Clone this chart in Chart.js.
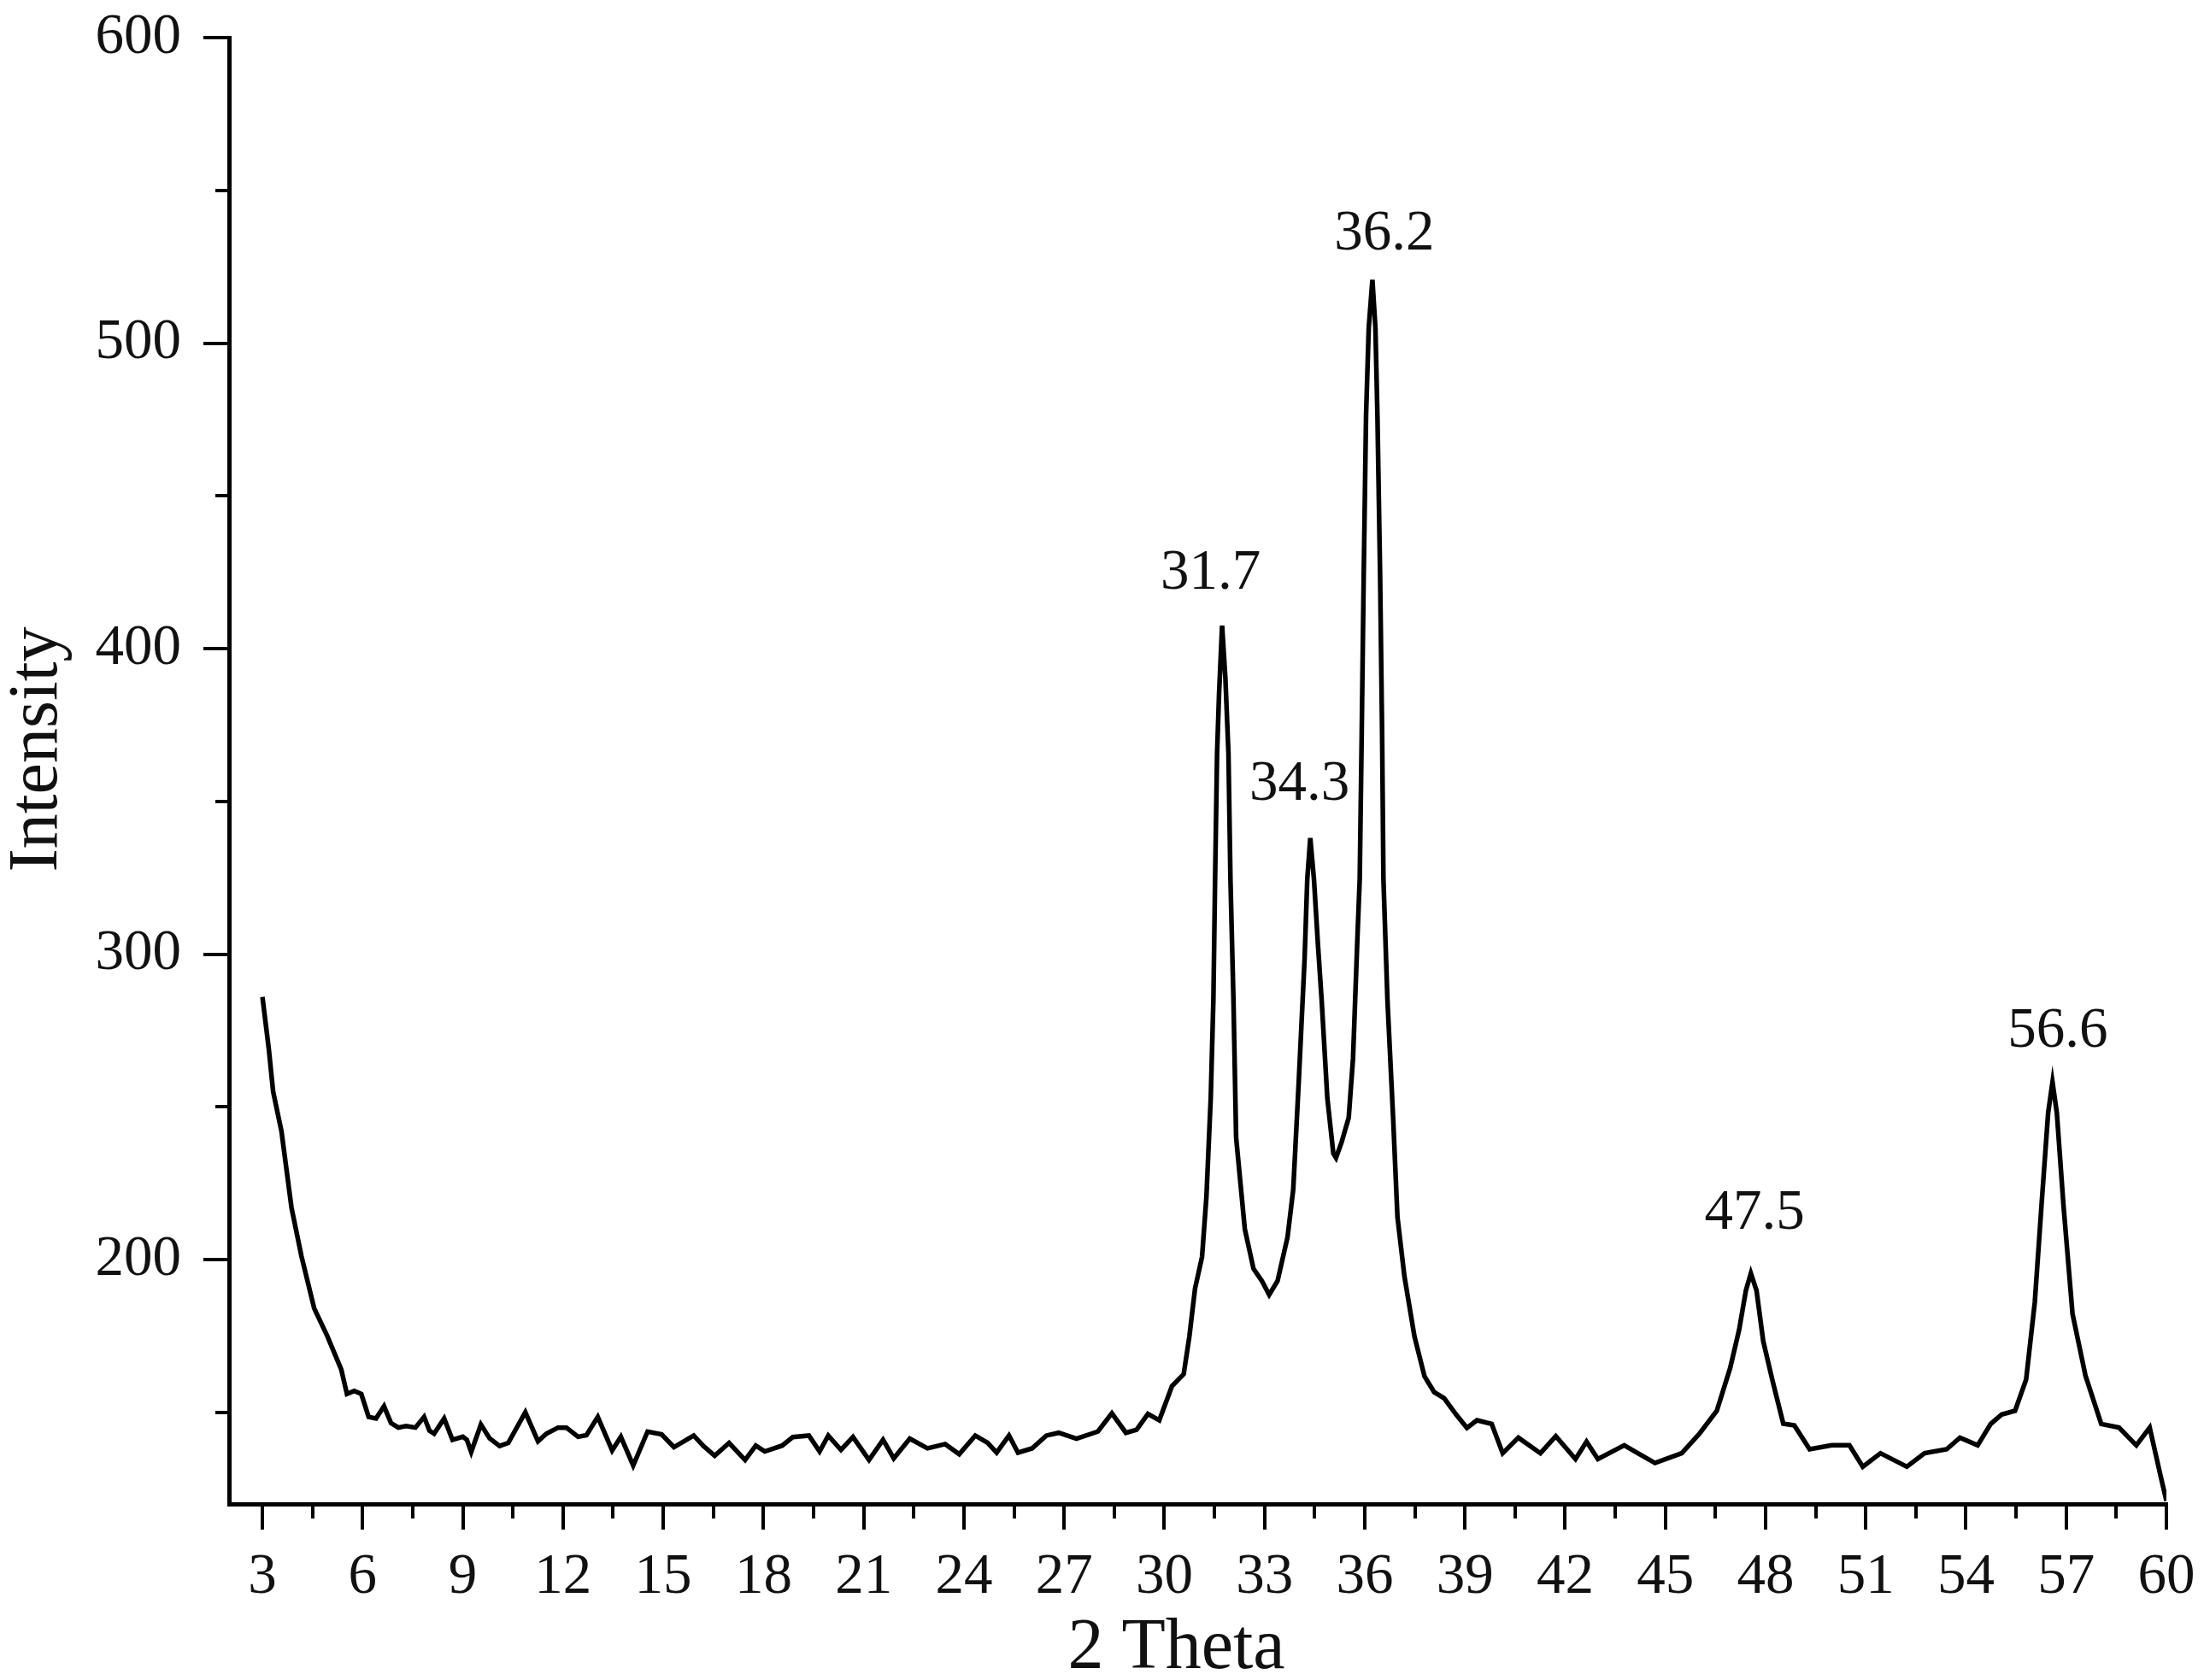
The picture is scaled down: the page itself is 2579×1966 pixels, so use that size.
<!DOCTYPE html>
<html>
<head>
<meta charset="utf-8">
<script src="https://cdn.jsdelivr.net/npm/chart.js@4/dist/chart.umd.min.js"></script>
<style>
  html, body { margin: 0; padding: 0; background: #ffffff; }
  #wrap { width: 2579px; height: 1966px; }
</style>
</head>
<body>
<div id="wrap"><canvas id="c" width="2579" height="1966"></canvas></div>
<script>
// ---- data ----
const twoTheta = [
  3.00, 3.19, 3.32, 3.57, 3.87, 4.17, 4.55, 4.94, 5.36, 5.53, 5.75, 5.96, 6.18, 6.40, 6.64, 6.85,
  7.07, 7.30, 7.58, 7.84, 8.00, 8.14, 8.44, 8.69, 9.00, 9.12, 9.25, 9.54, 9.80, 10.10, 10.36, 10.87,
  11.25, 11.50, 11.85, 12.10, 12.45, 12.70, 13.04, 13.47, 13.73, 14.10, 14.53, 14.95, 15.32, 15.91,
  16.20, 16.54, 16.97, 17.45, 17.77, 18.04, 18.56, 18.88, 19.36, 19.68, 19.94, 20.32, 20.68, 21.16,
  21.58, 21.90, 22.38, 22.91, 23.44, 23.86, 24.34, 24.71, 24.98, 25.35, 25.62, 26.04, 26.47, 26.84,
  27.37, 28.01, 28.43, 28.85, 29.17, 29.51, 29.85, 30.23, 30.58, 30.75, 30.92, 31.13, 31.26, 31.39,
  31.47, 31.52, 31.58, 31.64, 31.73, 31.83, 31.92, 31.98, 32.07, 32.15, 32.41, 32.67, 32.92, 33.14,
  33.39, 33.69, 33.86, 34.03, 34.20, 34.28, 34.37, 34.48, 34.60, 34.71, 34.88, 35.06, 35.14, 35.31,
  35.52, 35.65, 35.78, 35.85, 35.91, 35.97, 36.04, 36.12, 36.23, 36.32, 36.38, 36.46, 36.52, 36.56,
  36.68, 36.85, 36.98, 37.19, 37.49, 37.79, 38.08, 38.38, 38.72, 39.06, 39.36, 39.80, 40.13, 40.60,
  41.26, 41.72, 42.31, 42.64, 42.98, 43.77, 44.20, 44.69, 45.49, 46.02, 46.54, 46.94, 47.21, 47.41,
  47.56, 47.73, 47.93, 48.20, 48.53, 48.86, 49.32, 49.98, 50.51, 50.91, 51.44, 52.23, 52.76, 53.42,
  53.82, 54.35, 54.74, 55.07, 55.47, 55.80, 56.06, 56.26, 56.46, 56.59, 56.72, 56.92, 57.19, 57.58,
  58.05, 58.58, 59.10, 59.50, 59.83, 60.00
];
const intensity = [
  286, 269, 255, 242, 217, 201, 184, 175, 164, 156, 157, 156, 148.5, 148, 152, 146.5,
  145, 145.5, 145, 148.5, 144, 143, 148, 141, 142, 141, 137, 146, 141.5, 139, 140, 150,
  140.5, 143, 145, 145, 142, 142.5, 148.5, 137.5, 142, 132.6, 143.7, 142.8, 138.6, 142.4,
  139, 135.8, 140, 134.4, 139.1, 137.2, 139.1, 141.9, 142.4, 137.2, 142.4, 137.7, 141.9, 134.4,
  141, 134.9, 141.4, 138.2, 139.6, 136.3, 142.4, 140, 136.8, 142.4, 136.8, 138.2, 142.4, 143.3,
  141.4, 143.7, 149.7, 143.3, 144.3, 149.5, 147.4, 158.6, 162.5, 174.8, 190.5, 200.9, 220.4, 252.9,
  285.4, 324.5, 365.8, 385.4, 407.5, 390, 365.8, 324.5, 285, 239.9, 210, 197, 193, 188.5,
  193, 207.4, 223, 259.4, 298.5, 324.5, 338, 324.5, 303, 285, 252.9, 234.7, 233.3, 238.5,
  246.4, 265.9, 305, 324.5, 372.4, 424.4, 476.5, 505, 520.7, 505, 476.5, 424.4, 372.4, 324.5,
  285, 246.4, 213.9, 194.4, 174.8, 161.8, 156.6, 154.6, 149.5, 144.9, 147.4, 146.2, 136.6, 141.7,
  136.6, 142.2, 134.7, 140.4, 134.7, 139.2, 136.5, 133.4, 136.6, 143, 150.5, 164.5, 177.1, 189.8,
  195.5, 189.8, 173.3, 160.7, 146.3, 145.7, 137.9, 139.2, 139.2, 132.2, 136.6, 132.2, 136.6, 137.9,
  141.7, 139.2, 146.2, 149.3, 150.5, 160.7, 186, 217.6, 248, 258.1, 248, 217.6, 182.2, 161.9,
  146.2, 145, 139.2, 145, 129, 121
];
const xTickValues = [3, 6, 9, 12, 15, 18, 21, 24, 27, 30, 33, 36, 39, 42, 45, 48, 51, 54, 57, 60];
const xMinorTicks = [4.5, 7.5, 10.5, 13.5, 16.5, 19.5, 22.5, 25.5, 28.5, 31.5, 34.5, 37.5, 40.5, 43.5, 46.5, 49.5, 52.5, 55.5, 58.5];
const yTickValues = [200, 300, 400, 500, 600];
const yMinorTicks = [150, 250, 350, 450, 550];
const peakLabels = ['31.7', '34.3', '36.2', '47.5', '56.6'];
const peakLabelX = [31.39, 34.05, 36.59, 47.67, 56.75];
const peakLabelY = [424.5, 355.5, 535.6, 215.1, 274.6];
const xTitle = '2 Theta';
const yTitle = 'Intensity';

// ---- chart ----
const FONT = "'Liberation Serif', 'Times New Roman', serif";
const points = twoTheta.map((t, i) => ({ x: t, y: intensity[i] }));

const extras = {
  id: 'extras',
  beforeDraw(chart) {
    const ctx = chart.ctx;
    ctx.save();
    ctx.fillStyle = '#ffffff';
    ctx.fillRect(0, 0, chart.width, chart.height);
    ctx.restore();
  },
  afterDraw(chart) {
    const ctx = chart.ctx;
    const xs = chart.scales.x, ys = chart.scales.y;
    const area = chart.chartArea;
    ctx.save();
    ctx.strokeStyle = '#000';
    ctx.lineWidth = 4;
    ctx.lineCap = 'butt';
    xMinorTicks.forEach(v => {
      const px = Math.round(xs.getPixelForValue(v));
      ctx.beginPath();
      ctx.moveTo(px, area.bottom);
      ctx.lineTo(px, area.bottom + 17);
      ctx.stroke();
    });
    yMinorTicks.forEach(v => {
      const py = Math.round(ys.getPixelForValue(v));
      ctx.beginPath();
      ctx.moveTo(area.left, py);
      ctx.lineTo(area.left - 16, py);
      ctx.stroke();
    });
    ctx.fillStyle = '#111';
    ctx.font = '67px ' + FONT;
    ctx.textAlign = 'center';
    ctx.textBaseline = 'middle';
    peakLabels.forEach((t, i) => {
      ctx.fillText(t, xs.getPixelForValue(peakLabelX[i]), ys.getPixelForValue(peakLabelY[i]));
    });
    // axis titles
    ctx.font = '84px ' + FONT;
    ctx.textBaseline = 'alphabetic';
    ctx.fillText(xTitle, (area.left + area.right) / 2 - 25, chart.height - 14);
    ctx.save();
    ctx.translate(44, (area.top + area.bottom) / 2 - 25);
    ctx.rotate(-Math.PI / 2);
    ctx.font = '82px ' + FONT;
    ctx.textBaseline = 'middle';
    ctx.fillText(yTitle, 0, 0);
    ctx.restore();
    ctx.restore();
  }
};

new Chart(document.getElementById('c'), {
  type: 'line',
  data: {
    datasets: [{
      label: 'Intensity',
      data: points,
      borderColor: '#000',
      borderWidth: 5.5,
      pointRadius: 0,
      tension: 0,
      fill: false
    }]
  },
  options: {
    responsive: false,
    devicePixelRatio: 1,
    animation: false,
    layout: { padding: { top: 44, right: 44, left: 0, bottom: 0 } },
    plugins: { legend: { display: false }, tooltip: { enabled: false } },
    scales: {
      x: {
        type: 'linear',
        min: 2,
        max: 60,
        afterBuildTicks(scale) { scale.ticks = xTickValues.map(v => ({ value: v })); },
        afterFit(scale) {
          scale.height = 206;
          scale.paddingLeft = 0; scale.paddingRight = 0;
        },
        grid: { drawOnChartArea: false, drawTicks: true, tickLength: 30, color: '#000', lineWidth: 4 },
        border: { display: true, color: '#000', width: 5 },
        ticks: {
          color: '#111', padding: 23, maxRotation: 0, autoSkip: false,
          font: { family: FONT, size: 67, lineHeight: 1 },
          callback: v => String(v)
        },
        title: { display: false, text: xTitle }
      },
      y: {
        type: 'linear',
        min: 120,
        max: 600,
        afterBuildTicks(scale) { scale.ticks = yTickValues.map(v => ({ value: v })); },
        afterFit(scale) {
          scale.width = 268;
          scale.paddingTop = 0; scale.paddingBottom = 0;
        },
        grid: { drawOnChartArea: false, drawTicks: true, tickLength: 30, color: '#000', lineWidth: 4 },
        border: { display: true, color: '#000', width: 5 },
        ticks: {
          color: '#111', padding: 26, autoSkip: false,
          font: { family: FONT, size: 67, lineHeight: 1 },
          callback: v => String(v)
        },
        title: { display: false, text: yTitle }
      }
    }
  },
  plugins: [extras]
});
</script>
</body>
</html>
